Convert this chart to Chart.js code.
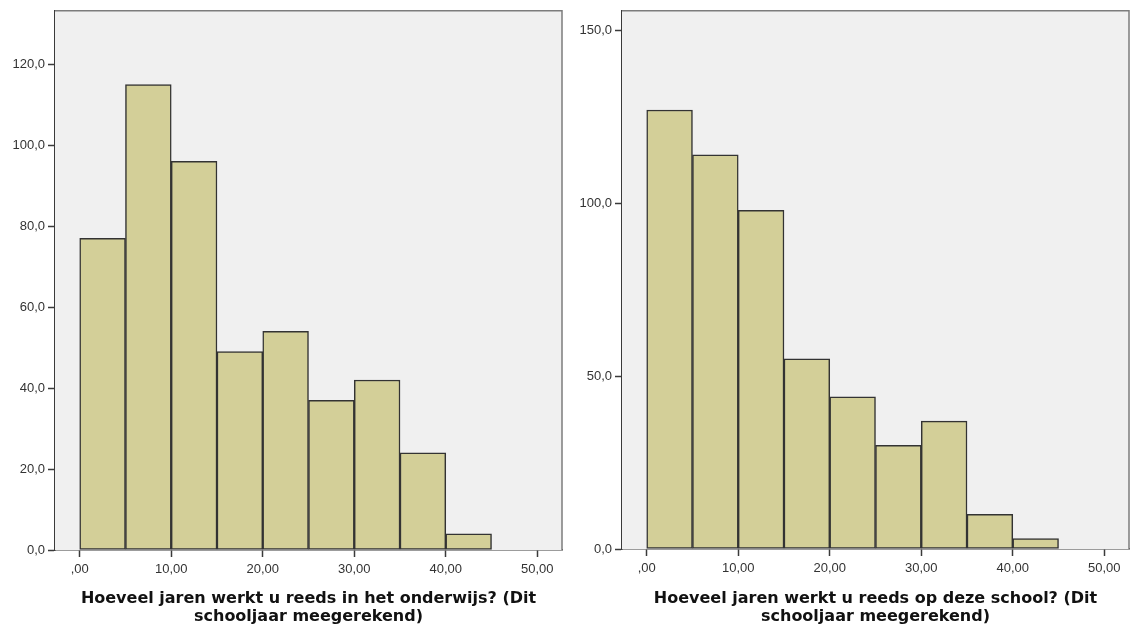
<!DOCTYPE html>
<html lang="nl">
<head>
<meta charset="utf-8">
<title>Histogrammen jaren werkervaring</title>
<script src="https://cdn.jsdelivr.net/npm/chart.js@4"></script>
<style>
    html, body { margin: 0; padding: 0; background: #ffffff; }
    .panel { position: absolute; top: 0; height: 630px; }
    #panelLeft { left: 0; width: 566px; }
    #panelRight { left: 566px; width: 564px; }
</style>
</head>
<body>
<div class="panel" id="panelLeft"><canvas id="chartOnderwijs" width="566" height="630"></canvas></div>
<div class="panel" id="panelRight"><canvas id="chartSchool" width="564" height="630"></canvas></div>

<script>
// ====================== //
// DATA                   //
// ====================== //

// bins van 5 jaar: 0-5, 5-10, ... 40-45
const binStarts = [0, 5, 10, 15, 20, 25, 30, 35, 40];
const binWidth = 5;

const countsOnderwijs = [77, 115, 96, 49, 54, 37, 42, 24, 4];
const countsSchool = [127, 114, 98, 55, 44, 30, 37, 10, 3];

const xTicks = [0, 10, 20, 30, 40, 50];
const xTickLabels = [',00', '10,00', '20,00', '30,00', '40,00', '50,00'];

const yTicksOnderwijs = [0, 20, 40, 60, 80, 100, 120];
const yTickLabelsOnderwijs = ['0,0', '20,0', '40,0', '60,0', '80,0', '100,0', '120,0'];

const yTicksSchool = [0, 50, 100, 150];
const yTickLabelsSchool = ['0,0', '50,0', '100,0', '150,0'];

const titleOnderwijs = ['Hoeveel jaren werkt u reeds in het onderwijs? (Dit', 'schooljaar meegerekend)'];
const titleSchool = ['Hoeveel jaren werkt u reeds op deze school? (Dit', 'schooljaar meegerekend)'];

// ====================== //
// STYLE                  //
// ====================== //

const BAR_FILL = '#d3cf98';
const BAR_LINE = '#333333';
const PLOT_BG = '#f0f0f0';
const AXIS_DARK = '#3a3a3a';
const FRAME_LIGHT = '#7c7c7c';
const TICK_FONT = { family: 'Liberation Sans, Arial, sans-serif', size: 13 };
const TITLE_FONT = { family: 'DejaVu Sans, Verdana, sans-serif', size: 16, weight: 'bold', lineHeight: 1.125 };

// grijze achtergrond + lichte rand boven/rechts, zoals SPSS
const plotFrame = {
    id: 'plotFrame',
    beforeDatasetsDraw(chart) {
        const { ctx, chartArea: a } = chart;
        ctx.save();
        ctx.fillStyle = PLOT_BG;
        ctx.fillRect(a.left, a.top, a.right - a.left, a.bottom - a.top);
        ctx.restore();
    },
    afterDraw(chart) {
        const { ctx, chartArea: a } = chart;
        ctx.save();
        ctx.strokeStyle = FRAME_LIGHT;
        ctx.lineWidth = 1.5;
        ctx.beginPath();
        ctx.moveTo(a.left, a.top);
        ctx.lineTo(a.right, a.top);
        ctx.lineTo(a.right, a.bottom);
        ctx.stroke();
        ctx.restore();
    }
};

function makeHistogram(canvasId, counts, yTicks, yLabels, yMax, title, opts) {
    const points = binStarts.map((start, i) => ({ x: start + binWidth / 2, y: counts[i] }));

    return new Chart(document.getElementById(canvasId), {
        type: 'bar',
        data: {
            datasets: [{
                data: points,
                backgroundColor: BAR_FILL,
                borderColor: BAR_LINE,
                borderWidth: 1.5,
                borderSkipped: false,
                barPercentage: 1,
                categoryPercentage: 1
            }]
        },
        options: {
            responsive: false,
            devicePixelRatio: 1,
            animation: false,
            layout: { padding: { top: opts.top, right: opts.right, left: 0, bottom: 0 } },
            plugins: {
                legend: { display: false },
                tooltip: { enabled: false }
            },
            scales: {
                x: {
                    type: 'linear',
                    min: -2.7,
                    max: 52.7,
                    offset: false,
                    afterBuildTicks: scale => { scale.ticks = xTicks.map(v => ({ value: v })); },
                    afterFit: scale => { scale.height = opts.xHeight; },
                    ticks: {
                        font: TICK_FONT,
                        color: '#333333',
                        padding: 5,
                        maxRotation: 0,
                        callback: (v, i) => xTickLabels[i]
                    },
                    grid: { offset: false, drawOnChartArea: false, tickLength: 7, tickColor: AXIS_DARK, tickWidth: 1.5 },
                    border: { color: AXIS_DARK, width: 1.5 },
                    title: {
                        display: true,
                        text: title,
                        font: TITLE_FONT,
                        color: '#111111',
                        padding: { top: 4, bottom: 4 }
                    }
                },
                y: {
                    min: 0,
                    max: yMax,
                    afterBuildTicks: scale => { scale.ticks = yTicks.map(v => ({ value: v })); },
                    afterFit: scale => { scale.width = opts.yWidth; },
                    ticks: {
                        font: TICK_FONT,
                        color: '#333333',
                        padding: 3,
                        callback: (v, i) => yLabels[i]
                    },
                    grid: { drawOnChartArea: false, tickLength: 7, tickColor: AXIS_DARK, tickWidth: 1.5 },
                    border: { color: AXIS_DARK, width: 1.5 }
                }
            }
        },
        plugins: [plotFrame]
    });
}

// Initialize when DOM is ready
document.addEventListener('DOMContentLoaded', () => {
    makeHistogram('chartOnderwijs', countsOnderwijs, yTicksOnderwijs, yTickLabelsOnderwijs, 133.2, titleOnderwijs,
        { top: 9, right: 4, yWidth: 55, xHeight: 80 });
    makeHistogram('chartSchool', countsSchool, yTicksSchool, yTickLabelsSchool, 155.7, titleSchool,
        { top: 7, right: 1, yWidth: 56, xHeight: 81 });
});
</script>
</body>
</html>
